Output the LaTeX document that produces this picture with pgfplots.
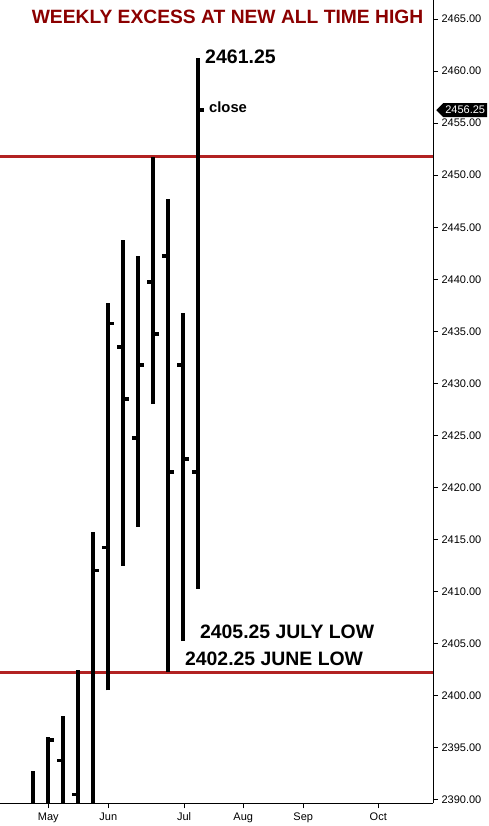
\documentclass[border=0pt]{standalone}
\usepackage{pgfplots}
\pgfplotsset{compat=1.18}
\usepackage{pgfplotstable}
\usepackage{fontspec}
\setmainfont{Liberation Sans}
\usetikzlibrary{shapes.symbols}
\definecolor{titlered}{RGB}{139,0,0}
\definecolor{linered}{RGB}{178,34,34}
\pgfdeclareplotmark{ctick}{\pgfpathrectangle{\pgfpoint{1.9pt}{-1.75pt}}{\pgfpoint{4.1pt}{3.5pt}}\pgfusepathqfill}
\pgfdeclareplotmark{otick}{\pgfpathrectangle{\pgfpoint{-6pt}{-1.75pt}}{\pgfpoint{4.1pt}{3.5pt}}\pgfusepathqfill}
\pgfplotstableread{
x open close
0 nan nan
1 nan 2395.75
2 2393.75 nan
3 2390.5 nan
4 nan 2412
5 2414.25 2435.75
6 2433.5 2428.5
7 2424.75 2431.75
8 2439.75 2434.75
9 2442.25 2421.5
10 2431.75 2422.75
11 2421.5 2456.25
}\ohlc
\begin{document}
\begin{tikzpicture}
\useasboundingbox (0,-22.7pt) rectangle (489pt,803.3pt);
\begin{axis}[
  at={(0,0)}, anchor=south west,
  scale only axis, width=433pt, height=803.3pt,
  xmin=-2.2, xmax=26.67, ymin=2389.66, ymax=2466.83,
  axis x line*=bottom, axis y line*=right,
  axis line style={line width=0.8pt, -},
  tick align=outside, major tick length=5pt,
  tick style={line width=0.8pt, black},
  xtick={1.02,5.02,10.07,14.02,18.02,23.02},
  xticklabels={May,Jun,Jul,Aug,Sep,Oct},
  ytick={2390,2395,...,2465},
  yticklabel pos=right,
  /pgf/number format/.cd, fixed, fixed zerofill, precision=2, 1000 sep={}, assume math mode=true,
  /pgfplots/.cd,
  ticklabel style={font=\fontsize{11}{12}\selectfont, text=black},
  xticklabel style={yshift=-1pt},
  yticklabel style={xshift=0pt},
  clip=true,
]
\addplot[linered, line width=3pt] coordinates {(-2.2,2451.75) (26.67,2451.75)};
\addplot[linered, line width=3pt] coordinates {(-2.2,2402.25) (26.67,2402.25)};
\addplot[black, line width=4pt, unbounded coords=jump] coordinates {
(0,2385)(0,2392.75)(0,nan)
(1,2385)(1,2396)(1,nan)
(2,2385)(2,2398)(2,nan)
(3,2385)(3,2402.5)(3,nan)
(4,2385)(4,2415.75)(4,nan)
(5,2400.5)(5,2437.75)(5,nan)
(6,2412.5)(6,2443.75)(6,nan)
(7,2416.25)(7,2442.25)(7,nan)
(8,2428)(8,2451.75)(8,nan)
(9,2402.25)(9,2447.75)(9,nan)
(10,2405.25)(10,2436.75)(10,nan)
(11,2410.25)(11,2461.25)};
\addplot[black, only marks, mark=otick, mark options={fill=black, draw=none}] table[x=x, y=open] {\ohlc};
\addplot[black, only marks, mark=ctick, mark options={fill=black, draw=none}] table[x=x, y=close] {\ohlc};
\coordinate (ttl) at (axis cs:12.97,2465.19);
\coordinate (hi) at (axis cs:11.47,2461.35);
\coordinate (cl) at (axis cs:11.73,2456.55);
\coordinate (jul) at (axis cs:11.13,2406.11);
\coordinate (jun) at (axis cs:10.13,2403.52);
\coordinate (last) at (axis cs:26.67,2456.25);
\end{axis}
\node[font=\fontsize{19.25}{19.25}\selectfont\bfseries, text=titlered] at (ttl) {WEEKLY EXCESS AT NEW ALL TIME HIGH};
\node[font=\fontsize{19.5}{19.5}\selectfont\bfseries, anchor=west, inner sep=0pt] at (hi) {2461.25};
\node[font=\fontsize{14.8}{14.8}\selectfont\bfseries, anchor=west, inner sep=0pt] at (cl) {close};
\node[font=\fontsize{19.4}{19.4}\selectfont\bfseries, anchor=west, inner sep=0pt] at (jul) {2405.25 JULY LOW};
\node[font=\fontsize{19.4}{19.4}\selectfont\bfseries, anchor=west, inner sep=0pt] at (jun) {2402.25 JUNE LOW};
\node[signal, signal to=west, signal pointer angle=90, fill=black, text=white, inner xsep=2pt, inner ysep=2.5pt, minimum height=14pt, anchor=west, font=\fontsize{11}{12}\selectfont] at ([xshift=3pt]last) {2456.25};
\end{tikzpicture}
\end{document}
